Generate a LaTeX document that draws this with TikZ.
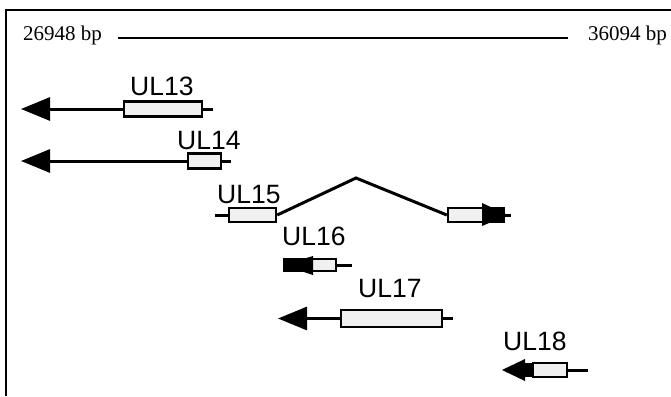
\documentclass[tikz,border=0pt]{standalone}
\usepackage{fontspec}
\setmainfont{Liberation Serif}
\newfontfamily\lblfont{Liberation Sans}
\usetikzlibrary{arrows.meta}
\begin{document}
\begin{tikzpicture}[x=1pt,y=-1pt,
  genebox/.style={draw,line width=2.4pt,fill=gray!12,inner sep=0pt,rectangle},
  gline/.style={line width=3pt},
  larrow/.style={gline,-{Triangle[length=29pt,width=23pt]}},
  lbl/.style={font=\lblfont\fontsize{26.5}{26.5}\selectfont,inner sep=0pt,anchor=base west},
  bp/.style={font=\fontsize{21}{21}\selectfont,inner sep=0pt},
  ]
\useasboundingbox (0,0) rectangle (671,396);
% frame
\draw[line width=2pt] (6,396) -- (6,10) -- (671,10);
% ruler
\node[bp,anchor=base west] (lft) at (23,41) {26948 bp};
\node[bp,anchor=base east] (rgt) at (667,41) {36094 bp};
\coordinate (r1) at (118,38);
\coordinate (r2) at (568,38);
\draw[line width=1.2pt] (r1) -- (r2);

% UL13
\node[lbl] (t13) at (130,95) {UL13};
\node[genebox,minimum width=78pt,minimum height=15pt] (b13) at (163,109) {};
\coordinate (a13) at (21,109);
\coordinate (e13) at (213,109);
\draw[larrow] (b13.west) -- (a13);
\draw[gline] (b13.east) -- (e13);

% UL14
\node[lbl] (t14) at (177,149) {UL14};
\node[genebox,minimum width=33pt,minimum height=15pt] (b14) at (204.5,161) {};
\coordinate (a14) at (21,161);
\coordinate (e14) at (231,161);
\draw[larrow] (b14.west) -- (a14);
\draw[gline] (b14.east) -- (e14);

% UL15
\node[lbl] (t15) at (217,203) {UL15};
\node[genebox,minimum width=47pt,minimum height=14pt] (b15a) at (252.5,215) {};
\node[genebox,minimum width=56pt,minimum height=14pt] (b15b) at (476,215) {};
\coordinate (s15) at (215,215);
\coordinate (p15) at (356,178);
\coordinate (e15) at (511,215);
\draw[gline] (s15) -- (b15a.west);
\draw[gline,line join=miter] (b15a.east) -- (p15) -- (b15b.west);
\fill[black] (482,208.5) rectangle (505,221.5);
\fill[black] (482,203) -- (508,215) -- (482,226) -- cycle;
\draw[gline] (b15b.east) -- (e15);

% UL16
\node[lbl] (t16) at (282,245) {UL16};
\node[genebox,minimum width=52pt,minimum height=12pt] (b16) at (310,265) {};
\coordinate (e16) at (352,265);
\fill[black] (283,258) rectangle (310,272);
\fill[black] (283,265) -- (313,256) -- (313,275) -- cycle;
\draw[gline] (b16.east) -- (e16);

% UL17
\node[lbl] (t17) at (358,297) {UL17};
\node[genebox,minimum width=101pt,minimum height=17pt] (b17) at (391.5,318.5) {};
\coordinate (a17) at (278,318.5);
\coordinate (e17) at (453,318.5);
\draw[larrow] (b17.west) -- (a17);
\draw[gline] (b17.east) -- (e17);

% UL18
\node[lbl] (t18) at (503,350) {UL18};
\node[genebox,minimum width=34pt,minimum height=14pt] (b18) at (550,370) {};
\coordinate (e18) at (588,370);
\fill[black] (518,363) rectangle (533,377);
\fill[black] (502,370) -- (525,359) -- (525,381) -- cycle;
\draw[gline] (b18.east) -- (e18);
\end{tikzpicture}
\end{document}
